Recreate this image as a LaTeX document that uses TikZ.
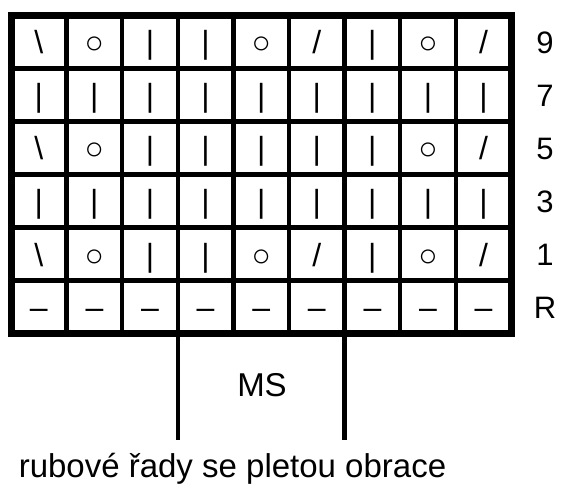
\documentclass[tikz,border=0pt]{standalone}
\usepackage{fontspec}
\setmainfont{Liberation Sans}
\begin{document}
\begin{tikzpicture}[x=1pt,y=-1pt,
  gridline/.style={line width=4.5pt},
  outerframe/.style={line width=7pt},
  sym/.style={anchor=base,inner sep=0pt,font=\fontsize{32}{38}\selectfont},
  rowlabel/.style={anchor=base,inner sep=0pt,font=\fontsize{31}{36}\selectfont},
  txt/.style={anchor=base,inner sep=0pt,font=\fontsize{33}{38}\selectfont}]
\useasboundingbox (0,0) rectangle (563,484);
\def\cw{55.6}
\def\rh{53}
% grid lines
\foreach \i in {1,...,8}
  \draw[gridline] ({11+\cw*\i},15.5) -- ({11+\cw*\i},333.5);
\foreach \j in {1,...,5}
  \draw[gridline] (11,{15.5+\rh*\j}) -- (511.4,{15.5+\rh*\j});
\draw[outerframe] (11,15.5) rectangle (511.4,333.5);
% symbols
\foreach \r/\row in {0/{\textbackslash,○,|,|,○,/,|,○,/},
                     1/{|,|,|,|,|,|,|,|,|},
                     2/{\textbackslash,○,|,|,|,|,|,○,/},
                     3/{|,|,|,|,|,|,|,|,|},
                     4/{\textbackslash,○,|,|,○,/,|,○,/},
                     5/{–,–,–,–,–,–,–,–,–}}{
  \foreach \s [count=\c from 0] in \row
    \node[sym] (s\r\c) at ({11+\cw*(\c+0.5)},{15.5+\rh*(\r+0.5)+12}) {\s};
}
% row labels
\foreach \l [count=\r from 0] in {9,7,5,3,1,R}
  \node[rowlabel] (lab\r) at (545,{15.5+\rh*(\r+0.5)+11.5}) {\l};
% MS lines
\coordinate (m1t) at ({11+\cw*3},337);
\coordinate (m1b) at ({11+\cw*3},440);
\coordinate (m2t) at ({11+\cw*6},337);
\coordinate (m2b) at ({11+\cw*6},440);
\draw[gridline] (m1t) -- (m1b);
\draw[gridline] (m2t) -- (m2b);
\node[txt] (ms) at (262,396) {MS};
\node[txt] (bottom) at (232.5,477) {rubové řady se pletou obrace};
\end{tikzpicture}
\end{document}
